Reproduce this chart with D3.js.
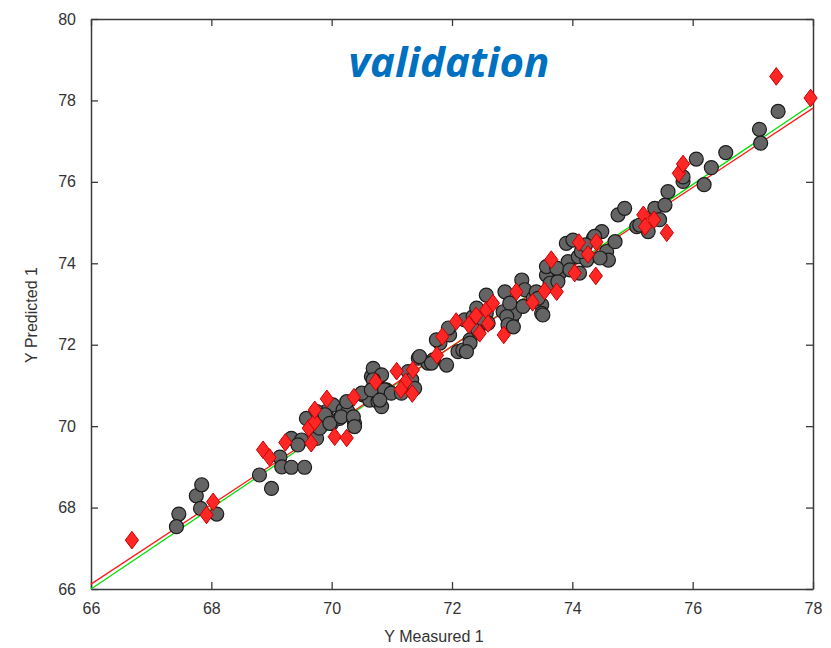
<!DOCTYPE html>
<html>
<head>
<meta charset="utf-8">
<script src="https://cdn.jsdelivr.net/npm/d3@7"></script>
<style>
  html, body { margin: 0; padding: 0; background: #fff; }
  svg { display: block; }
</style>
</head>
<body>
<svg id="chart" width="831" height="648"></svg>
<script>
// Calibration samples (grey circles): measured / predicted
const calMeasured = [
  67.46, 67.42, 67.75, 67.84, 67.82, 68.09, 68.80, 69.00, 69.14, 69.17,
  69.33, 69.55, 69.33, 69.50, 69.44, 69.58, 69.75, 69.80, 69.91, 70.02,
  70.00, 70.13, 70.19, 70.27, 70.38, 70.25, 70.52, 70.63, 70.66, 70.80,
  70.77, 70.83, 70.91, 70.74, 70.69, 70.83, 70.69, 70.50, 70.66, 70.88,
  70.99, 71.27, 71.33, 71.38, 71.44, 71.60, 71.69, 71.91, 71.80, 71.96,
  72.10, 72.18, 72.30, 71.94, 72.21, 72.35, 72.43, 72.57, 72.57, 72.60,
  72.85, 72.88, 72.99, 73.04, 73.16, 73.21, 73.18, 73.35, 73.49, 73.49,
  73.57, 73.57, 73.63, 73.79, 73.76, 73.90, 74.01, 73.93, 74.10, 74.12,
  74.24, 74.49, 74.35, 74.57, 74.71, 74.60, 74.76, 74.87, 75.07, 75.26,
  75.37, 75.45, 75.54, 75.59, 75.84, 75.84, 74.15, 74.37, 76.06, 76.19,
  76.31, 76.55, 77.11, 77.13, 77.42,
  74.22, 74.46, 75.12, 73.74, 73.96, 73.40, 73.43, 73.51, 72.96, 72.91,
  72.93, 73.02, 72.41, 72.49, 71.74, 72.30, 72.24, 71.46, 71.66, 69.75,
  69.89, 69.97, 70.16, 70.36, 70.38, 70.80, 71.16
];
const calPredicted = [
  67.84, 67.53, 68.29, 68.56, 67.98, 67.84, 68.80, 68.47, 69.24, 69.00,
  68.99, 68.99, 69.70, 69.66, 69.54, 70.19, 69.70, 69.95, 70.36, 70.52,
  70.07, 70.19, 70.40, 70.36, 70.07, 70.60, 70.77, 70.64, 71.22, 71.22,
  70.60, 70.48, 70.89, 70.97, 71.42, 71.26, 71.14, 70.81, 70.89, 70.89,
  70.81, 71.34, 71.14, 70.93, 71.67, 71.55, 71.63, 71.50, 72.04, 72.24,
  71.83, 71.87, 72.12, 72.41, 72.61, 72.69, 72.36, 73.22, 72.77, 72.53,
  72.81, 73.30, 72.61, 72.77, 73.59, 73.35, 72.94, 73.14, 72.98, 72.77,
  73.71, 73.92, 73.51, 73.76, 73.55, 74.49, 74.57, 74.04, 74.16, 73.76,
  74.08, 74.78, 74.62, 74.29, 74.53, 74.08, 75.19, 75.35, 74.90, 74.78,
  75.35, 75.07, 75.43, 75.76, 76.01, 76.12, 74.29, 74.66, 76.56, 75.93,
  76.35, 76.72, 77.29, 76.95, 77.73,
  74.45, 74.13, 74.94, 73.88, 73.84, 73.30, 73.14, 72.73, 73.02, 72.69,
  72.49, 72.44, 72.90, 72.65, 72.12, 72.04, 71.83, 71.71, 71.55, 70.36,
  70.28, 70.07, 70.23, 70.23, 69.99, 70.64, 70.81
];

// Validation samples (red diamonds): measured / predicted
const valMeasured = [
  66.68, 67.92, 68.03, 68.86, 68.97, 69.23, 69.66, 69.62, 69.72, 69.72,
  69.92, 70.05, 70.25, 70.37, 70.73, 71.08, 71.23, 71.15, 71.35, 71.34,
  71.75, 71.84, 72.07, 72.28, 72.40, 72.46, 72.57, 72.60, 72.68, 72.86,
  73.07, 73.34, 73.54, 73.74, 73.65, 74.04, 74.11, 74.26, 74.40, 74.39,
  75.18, 75.21, 75.36, 75.57, 75.77, 75.84, 77.39, 77.96
];
const valPredicted = [
  67.20, 67.82, 68.14, 69.42, 69.23, 69.60, 69.58, 69.95, 70.11, 70.40,
  70.67, 69.74, 69.71, 70.71, 71.09, 71.35, 71.09, 70.90, 71.38, 70.80,
  71.74, 72.20, 72.57, 72.49, 72.71, 72.28, 72.85, 72.52, 73.02, 72.24,
  73.30, 73.04, 73.32, 73.30, 74.09, 73.76, 74.51, 74.22, 74.52, 73.69,
  75.19, 74.90, 75.07, 74.75, 76.21, 76.44, 78.59, 78.06
];

// Fit lines: [x start, x end] and matching predicted values
const fitX = [66, 78];
const idealY = [66, 77.92];
const regressionY = [66.12, 77.81];

const xTicks = [66, 68, 70, 72, 74, 76, 78];
const yTicks = [66, 68, 70, 72, 74, 76, 78, 80];

const titleText = "validation";
const xLabel = "Y Measured 1";
const yLabel = "Y Predicted 1";

// Layout
const svg = d3.select("#chart");
const plot = { left: 91, right: 813, top: 19, bottom: 589 };
const x = d3.scaleLinear().domain([66, 78]).range([plot.left, plot.right]);
const y = d3.scaleLinear().domain([66, 80]).range([plot.bottom, plot.top]);

const axisColor = "#3a3a3a";
const tickFont = "'Liberation Sans', Arial, sans-serif";
const tickLen = 7;

// Axes with inward ticks on all four sides
const bottomAxis = d3.axisBottom(x).tickValues(xTicks).tickSizeInner(-tickLen).tickSizeOuter(0).tickPadding(14).tickFormat(d3.format("d"));
const topAxis = d3.axisTop(x).tickValues(xTicks).tickSizeInner(-tickLen).tickSizeOuter(0).tickFormat("");
const leftAxis = d3.axisLeft(y).tickValues(yTicks).tickSizeInner(-tickLen).tickSizeOuter(0).tickPadding(15).tickFormat(d3.format("d"));
const rightAxis = d3.axisRight(y).tickValues(yTicks).tickSizeInner(-tickLen).tickSizeOuter(0).tickFormat("");

function styleAxis(g) {
  g.select(".domain").attr("stroke", axisColor).attr("stroke-width", 1.5);
  g.selectAll(".tick line").attr("stroke", axisColor).attr("stroke-width", 1.3);
  g.selectAll(".tick text").attr("fill", "#333").style("font-family", tickFont).style("font-size", "16px");
}

svg.append("g").attr("transform", `translate(0,${plot.bottom})`).call(bottomAxis).call(styleAxis);
svg.append("g").attr("transform", `translate(0,${plot.top})`).call(topAxis).call(styleAxis);
svg.append("g").attr("transform", `translate(${plot.left},0)`).call(leftAxis).call(styleAxis);
svg.append("g").attr("transform", `translate(${plot.right},0)`).call(rightAxis).call(styleAxis);

// Fit lines
const lineGen = d3.line().x(d => x(d[0])).y(d => y(d[1]));
svg.append("path")
  .datum(d3.zip(fitX, idealY))
  .attr("d", lineGen).attr("fill", "none").attr("stroke", "#00e000").attr("stroke-width", 1.3);
svg.append("path")
  .datum(d3.zip(fitX, regressionY))
  .attr("d", lineGen).attr("fill", "none").attr("stroke", "#ff1a1a").attr("stroke-width", 1.3);

// Calibration circles
svg.append("g").selectAll("circle")
  .data(d3.zip(calMeasured, calPredicted))
  .join("circle")
  .attr("cx", d => x(d[0]))
  .attr("cy", d => y(d[1]))
  .attr("r", 7)
  .attr("fill", "#646464")
  .attr("stroke", "#1c1c1c")
  .attr("stroke-width", 1.2);

// Validation diamonds
const hw = 6.6, hh = 8.8;
svg.append("g").selectAll("path")
  .data(d3.zip(valMeasured, valPredicted))
  .join("path")
  .attr("d", d => {
    const cx = x(d[0]), cy = y(d[1]);
    return `M${cx},${cy - hh}L${cx + hw},${cy}L${cx},${cy + hh}L${cx - hw},${cy}Z`;
  })
  .attr("fill", "#ff2626")
  .attr("stroke", "#c80000")
  .attr("stroke-width", 1);

// Title and axis labels
svg.append("text")
  .attr("x", 449).attr("y", 77)
  .attr("text-anchor", "middle")
  .style("font-family", "'Open Sans', 'Noto Sans', sans-serif")
  .style("font-weight", "bold")
  .style("font-style", "italic")
  .style("font-size", "42px")
  .attr("fill", "#0070c0")
  .text(titleText);

svg.append("text")
  .attr("x", 434).attr("y", 642)
  .attr("text-anchor", "middle")
  .style("font-family", tickFont)
  .style("font-size", "16px")
  .attr("fill", "#333")
  .text(xLabel);

svg.append("text")
  .attr("transform", "translate(37,315) rotate(-90)")
  .attr("text-anchor", "middle")
  .style("font-family", tickFont)
  .style("font-size", "16px")
  .attr("fill", "#333")
  .text(yLabel);
</script>
</body>
</html>
